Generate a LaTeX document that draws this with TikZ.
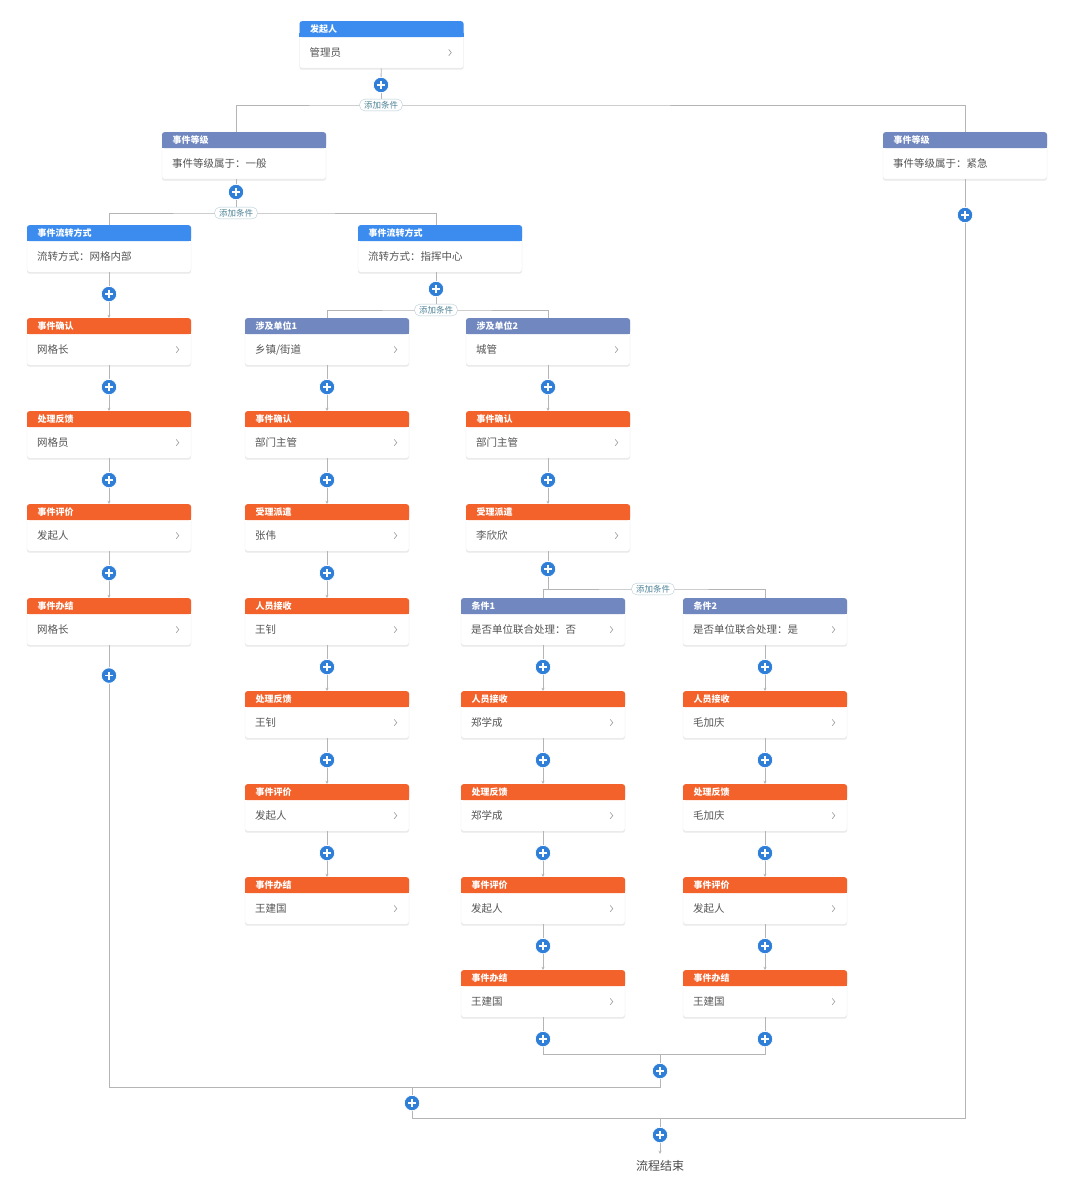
\documentclass[tikz,border=0pt]{standalone}
\usepackage{fontspec}
\setmainfont{Noto Sans CJK SC}
\usetikzlibrary{arrows.meta, positioning, shadows}

\definecolor{hdblue}{HTML}{3C8CEF}
\definecolor{hdslate}{HTML}{7087BF}
\definecolor{hdorange}{HTML}{F4622B}
\definecolor{btnblue}{HTML}{2F7FD9}
\definecolor{linegray}{HTML}{B5B5B5}
\definecolor{bodytext}{HTML}{555555}
\definecolor{pilltext}{HTML}{4F8497}
\definecolor{pillline}{HTML}{B7CBD3}

% card: name, x, top y, header colour, title, text, chevron (1/0)
\newcommand{\flowcard}[7]{%
  \node[cardbox] (#1) at (#2,#3) {};
  \fill[#4] ([yshift=-12pt]#1.north west) rectangle ([yshift=-16pt]#1.north east);
  \node[cardhead, fill=#4] (#1h) at (#1.north) {#5};
  \node[cardtext] (#1t) at ([xshift=10pt,yshift=15.5pt]#1.south west) {#6};
  \ifnum#7=1
    \draw[chev] ([xshift=-15pt,yshift=19pt]#1.south east) -- ++(2.6,3.2) -- ++(-2.6,3.2);
  \fi
}

\begin{document}
\begin{tikzpicture}[x=1pt, y=-1pt, >={Stealth[length=3.2pt,width=3pt]},
  cardbox/.style={anchor=north, minimum width=164pt, minimum height=47pt, inner sep=0pt,
    fill=white, draw=black!7, rounded corners=2.5pt,
    drop shadow={shadow xshift=0pt, shadow yshift=-1.5pt, opacity=0.18}},
  cardhead/.style={anchor=north, text width=143pt, inner xsep=10.5pt, inner ysep=0pt,
    minimum height=16pt, align=left, rounded corners=2.5pt, text=white,
    font=\bfseries\fontsize{9}{9}\selectfont},
  cardtext/.style={anchor=west, inner sep=0pt, text=bodytext, font=\fontsize{10.5}{12}\selectfont},
  chev/.style={draw=black!40, line width=0.6pt},
  conn/.style={draw=linegray, line width=0.8pt},
  plusbtn/.style={circle, fill=btnblue, minimum size=15.5pt, inner sep=0pt, draw=white, line width=0.8pt,
    path picture={\draw[white, line width=1.5pt]
      ([xshift=-4pt]path picture bounding box.center) -- ([xshift=4pt]path picture bounding box.center)
      ([yshift=-4pt]path picture bounding box.center) -- ([yshift=4pt]path picture bounding box.center);}},
  addlbl/.style={draw=pillline, fill=white, rounded corners=5.5pt, text=pilltext, inner xsep=4.5pt,
    inner ysep=2pt, font=\fontsize{8.5}{9}\selectfont}]

  \fill[white] (0,0) rectangle (1080,1193);
  \useasboundingbox (0,0) rectangle (1080,1193);

  % top of the flow
  \flowcard{init}{381.5}{21}{hdblue}{发起人}{管理员}{1}
  \flowcard{lvA}{244}{132}{hdslate}{事件等级}{事件等级属于：一般}{0}
  \flowcard{lvB}{965}{132}{hdslate}{事件等级}{事件等级属于：紧急}{0}
  \flowcard{A0}{109}{225}{hdblue}{事件流转方式}{流转方式：网格内部}{0}
  \flowcard{flB}{440}{225}{hdblue}{事件流转方式}{流转方式：指挥中心}{0}

  % column A
  \flowcard{A1}{109}{318}{hdorange}{事件确认}{网格长}{1}
  \flowcard{A2}{109}{411}{hdorange}{处理反馈}{网格员}{1}
  \flowcard{A3}{109}{504}{hdorange}{事件评价}{发起人}{1}
  \flowcard{A4}{109}{598}{hdorange}{事件办结}{网格长}{1}

  % column B
  \flowcard{B0}{327}{318}{hdslate}{涉及单位1}{乡镇/街道}{1}
  \flowcard{B1}{327}{411}{hdorange}{事件确认}{部门主管}{1}
  \flowcard{B2}{327}{504}{hdorange}{受理派遣}{张伟}{1}
  \flowcard{B3}{327}{598}{hdorange}{人员接收}{王钊}{1}
  \flowcard{B4}{327}{691}{hdorange}{处理反馈}{王钊}{1}
  \flowcard{B5}{327}{784}{hdorange}{事件评价}{发起人}{1}
  \flowcard{B6}{327}{877}{hdorange}{事件办结}{王建国}{1}

  % column C
  \flowcard{C0}{548}{318}{hdslate}{涉及单位2}{城管}{1}
  \flowcard{C1}{548}{411}{hdorange}{事件确认}{部门主管}{1}
  \flowcard{C2}{548}{504}{hdorange}{受理派遣}{李欣欣}{1}

  % column D
  \flowcard{D0}{543}{598}{hdslate}{条件1}{是否单位联合处理：否}{1}
  \flowcard{D1}{543}{691}{hdorange}{人员接收}{郑学成}{1}
  \flowcard{D2}{543}{784}{hdorange}{处理反馈}{郑学成}{1}
  \flowcard{D3}{543}{877}{hdorange}{事件评价}{发起人}{1}
  \flowcard{D4}{543}{970}{hdorange}{事件办结}{王建国}{1}

  % column E
  \flowcard{E0}{765}{598}{hdslate}{条件2}{是否单位联合处理：是}{1}
  \flowcard{E1}{765}{691}{hdorange}{人员接收}{毛加庆}{1}
  \flowcard{E2}{765}{784}{hdorange}{处理反馈}{毛加庆}{1}
  \flowcard{E3}{765}{877}{hdorange}{事件评价}{发起人}{1}
  \flowcard{E4}{765}{970}{hdorange}{事件办结}{王建国}{1}

  % steps inside each column
  \foreach \c/\n in {A/3, B/5, C/1, D/3, E/3} {
    \foreach \i [count=\j] in {0,...,\n} {
      \node[plusbtn, below=13.5pt of \c\i] (p\c\j) {};
      \draw[conn] (\c\i) -- (p\c\j);
      \draw[conn, ->] (p\c\j) -- (\c\j);
    }
  }

  % loose buttons
  \node[plusbtn] (p0) at (381,85) {};
  \node[plusbtn] (pLA) at (236,192) {};
  \node[plusbtn] (pLB) at (965,215) {};
  \node[plusbtn] (pFB) at (436,289) {};
  \node[plusbtn, below=22pt of A4] (pA5) {};
  \node[plusbtn, below=9.5pt of C2] (pC3) {};
  \node[plusbtn, below=13.5pt of D4] (pD5) {};
  \node[plusbtn, below=13.5pt of E4] (pE5) {};
  \draw[conn] (init) -- (p0);
  \draw[conn] (lvA.south -| pLA) -- (pLA);
  \draw[conn] (lvB) -- (pLB);
  \draw[conn] (flB.south -| pFB) -- (pFB);
  \draw[conn] (A4) -- (pA5);
  \draw[conn] (C2) -- (pC3);
  \draw[conn] (D4) -- (pD5);
  \draw[conn] (E4) -- (pE5);

  % condition splits
  \coordinate (s0) at (381,105);
  \coordinate (s1) at (236,213);
  \coordinate (s2) at (436,310);
  \coordinate (s3) at (653,589);
  \draw[conn] (p0) -- (s0);
  \draw[conn] (lvA.north -| pLA) |- (s0) -| (lvB.north);
  \draw[conn] (pLA) -- (s1);
  \draw[conn] (A0.north) |- (s1) -| (flB.north -| pFB);
  \draw[conn] (pFB) -- (s2);
  \draw[conn] (B0.north) |- (s2) -| (C0.north);
  \draw[conn] (pC3) -- (pC3 |- s3);
  \draw[conn] (D0.north) |- (s3) -| (E0.north);
  \node[addlbl] (c0) at (s0) {添加条件};
  \node[addlbl] (c1) at (s1) {添加条件};
  \node[addlbl] (c2) at (s2) {添加条件};
  \node[addlbl] (c3) at (s3) {添加条件};

  % merging back
  \coordinate (j1) at (660,1054);
  \coordinate (j2) at (660,1087);
  \coordinate (j3) at (660,1118);
  \node[plusbtn] (pM1) at (660,1071) {};
  \node[plusbtn] (pM2) at (412,1103) {};
  \node[plusbtn] (pM3) at (660,1135) {};
  \draw[conn] (pD5) |- (j1) -| (pE5);
  \draw[conn] (j1) -- (pM1);
  \draw[conn] (pA5) |- (j2) -- (pM1);
  \draw[conn] (pM2 |- j2) -- (pM2);
  \draw[conn] (pM2) |- (j3) -| (pLB);
  \draw[conn] (j3) -- (pM3);

  % end of flow
  \node[text=black!70, font=\fontsize{12}{14}\selectfont] (finish) at (660,1166) {流程结束};
  \draw[conn, ->, shorten >=3pt] (pM3) -- (finish);
\end{tikzpicture}
\end{document}
